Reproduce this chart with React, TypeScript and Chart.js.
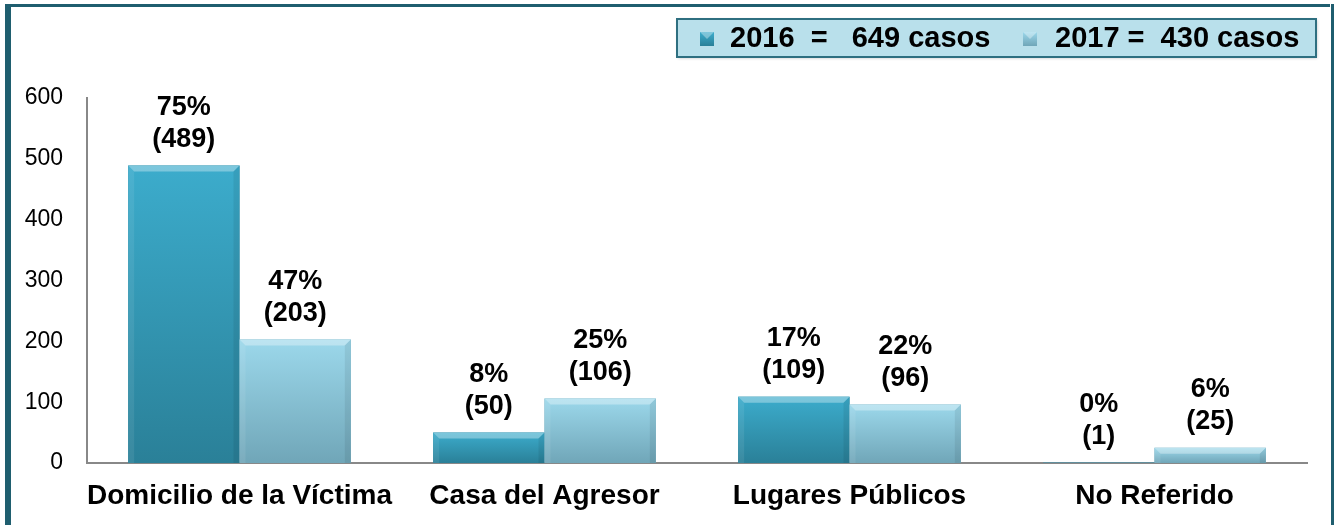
import React, { useEffect, useRef } from "react";
import { Chart, registerables } from "chart.js";

Chart.register(...registerables);

const categories = ["Domicilio de la Víctima", "Casa del Agresor", "Lugares Públicos", "No Referido"];
const seriesNames = ["2016", "2017"];
const values2016 = [489, 50, 109, 1];
const values2017 = [203, 106, 96, 25];
const pct2016 = ["75%", "8%", "17%", "0%"];
const pct2017 = ["47%", "25%", "22%", "6%"];
const legendTexts = ["2016  =   649 casos", "2017 =  430 casos"];
const yMin = 0;
const yMax = 600;
const yStep = 100;

const FONT = "'Liberation Sans', Arial, sans-serif";
const pctLabels = [pct2016, pct2017];

const gradStops = [
  ["#3CACCC", "#2A8098"],
  ["#9CD8EB", "#70A6B8"],
];

const framePlugin = {
  id: "frame",
  beforeDraw(chart: any) {
    const ctx = chart.ctx;
    ctx.save();
    ctx.fillStyle = "#ffffff";
    ctx.fillRect(0, 0, chart.width, chart.height);
    ctx.fillStyle = "#1F5E6F";
    ctx.fillRect(5, 4, 6, chart.height - 4);
    ctx.fillRect(5, 4, 1330 - 5, 3);
    ctx.fillRect(1331, 4, 3, chart.height - 4);
    ctx.restore();
  },
};

const bevelPlugin = {
  id: "bevel",
  afterDatasetsDraw(chart: any) {
    const ctx = chart.ctx;
    ctx.save();
    chart.data.datasets.forEach((ds: any, di: number) => {
      const meta = chart.getDatasetMeta(di);
      meta.data.forEach((bar: any) => {
        const p = bar.getProps(["x", "y", "base", "width"], true);
        const l = p.x - p.width / 2;
        const r = p.x + p.width / 2;
        const t = p.y;
        const b = p.base;
        const h = b - t;
        if (h < 3) {
          ctx.fillStyle = "rgba(150,210,230,0.25)";
          ctx.fillRect(l, t, r - l, h);
          return;
        }
        const g = ctx.createLinearGradient(0, t, 0, b);
        g.addColorStop(0, gradStops[di][0]);
        g.addColorStop(1, gradStops[di][1]);
        ctx.fillStyle = g;
        ctx.fillRect(l, t, r - l, h);
        const bv = Math.min(6, h / 2);
        ctx.fillStyle = "rgba(255,255,255,0.33)";
        ctx.beginPath();
        ctx.moveTo(l, t);
        ctx.lineTo(r, t);
        ctx.lineTo(r - bv, t + bv);
        ctx.lineTo(l + bv, t + bv);
        ctx.closePath();
        ctx.fill();
        ctx.fillStyle = "rgba(255,255,255,0.08)";
        ctx.beginPath();
        ctx.moveTo(l, t);
        ctx.lineTo(l + bv, t + bv);
        ctx.lineTo(l + bv, b);
        ctx.lineTo(l, b);
        ctx.closePath();
        ctx.fill();
        ctx.fillStyle = "rgba(0,0,0,0.07)";
        ctx.beginPath();
        ctx.moveTo(r, t);
        ctx.lineTo(r - bv, t + bv);
        ctx.lineTo(r - bv, b);
        ctx.lineTo(r, b);
        ctx.closePath();
        ctx.fill();
      });
    });
    ctx.restore();
  },
};

const labelPlugin = {
  id: "barLabels",
  afterDatasetsDraw(chart: any) {
    const ctx = chart.ctx;
    ctx.save();
    ctx.font = `bold 27px ${FONT}`;
    ctx.fillStyle = "#000000";
    ctx.textAlign = "center";
    ctx.textBaseline = "middle";
    chart.data.datasets.forEach((ds: any, di: number) => {
      const meta = chart.getDatasetMeta(di);
      meta.data.forEach((bar: any, i: number) => {
        const p = bar.getProps(["x", "y"], true);
        ctx.fillText(`(${ds.data[i]})`, p.x, p.y - 26);
        ctx.fillText(pctLabels[di][i], p.x, p.y - 58);
      });
    });
    ctx.restore();
  },
};

const legendPlugin = {
  id: "customLegend",
  afterDraw(chart: any) {
    const ctx = chart.ctx;
    ctx.save();
    const bx = 677, by = 19, bw = 1316 - 677, bh = 38;
    ctx.shadowColor = "rgba(0,0,0,0.25)";
    ctx.shadowBlur = 3;
    ctx.shadowOffsetX = 1;
    ctx.shadowOffsetY = 1;
    ctx.fillStyle = "#B9E0EB";
    ctx.fillRect(bx, by, bw, bh);
    ctx.shadowColor = "transparent";
    ctx.lineWidth = 2;
    ctx.strokeStyle = "#2E6F80";
    ctx.strokeRect(bx, by, bw, bh);
    const markerX = [700, 1023];
    const textX = [730, 1055];
    legendTexts.forEach((txt, i) => {
      const g = ctx.createLinearGradient(0, 32, 0, 46);
      g.addColorStop(0, gradStops[i][0]);
      g.addColorStop(1, gradStops[i][1]);
      ctx.fillStyle = g;
      ctx.fillRect(markerX[i], 32, 14, 14);
      ctx.fillStyle = "rgba(255,255,255,0.35)";
      ctx.beginPath();
      ctx.moveTo(markerX[i], 32);
      ctx.lineTo(markerX[i] + 14, 32);
      ctx.lineTo(markerX[i] + 7, 39);
      ctx.closePath();
      ctx.fill();
      ctx.fillStyle = "#000000";
      ctx.font = `bold 29px ${FONT}`;
      ctx.textAlign = "left";
      ctx.textBaseline = "middle";
      ctx.fillText(txt, textX[i], 39);
    });
    ctx.restore();
  },
};

export default function App() {
  const canvasRef = useRef<HTMLCanvasElement | null>(null);

  useEffect(() => {
    if (!canvasRef.current) return;
    const chart = new Chart(canvasRef.current, {
      type: "bar",
      data: {
        labels: categories,
        datasets: [values2016, values2017].map((vals, i) => ({
          label: seriesNames[i],
          data: vals,
          backgroundColor: gradStops[i][1],
          borderWidth: 0,
          categoryPercentage: 0.73,
          barPercentage: 1,
        })),
      },
      options: {
        responsive: false,
        animation: false,
        devicePixelRatio: 1,
        layout: { padding: { top: 98, right: 28, bottom: 0, left: 0 } },
        plugins: {
          legend: { display: false },
          tooltip: { enabled: false },
          title: { display: false },
        },
        scales: {
          x: {
            grid: { display: false, drawTicks: false },
            border: { display: true, color: "#888888", width: 2 },
            ticks: {
              color: "#000000",
              font: { family: FONT, size: 28, weight: "bold" },
              padding: 16,
              maxRotation: 0,
              autoSkip: false,
            },
            afterFit: (s: any) => {
              s.height = 62;
            },
          },
          y: {
            min: yMin,
            max: yMax,
            grid: { display: false, drawTicks: false },
            border: { display: true, color: "#888888", width: 2 },
            ticks: {
              stepSize: yStep,
              color: "#000000",
              font: { family: FONT, size: 23 },
              padding: 24,
            },
            afterFit: (s: any) => {
              s.width = 87;
            },
          },
        },
      },
      plugins: [framePlugin, bevelPlugin, labelPlugin, legendPlugin],
    } as any);
    return () => chart.destroy();
  }, []);

  return (
    <div style={{ position: "absolute", left: 0, top: 0, width: 1335, height: 525 }}>
      <canvas ref={canvasRef} width={1335} height={525} style={{ display: "block" }} />
    </div>
  );
}
